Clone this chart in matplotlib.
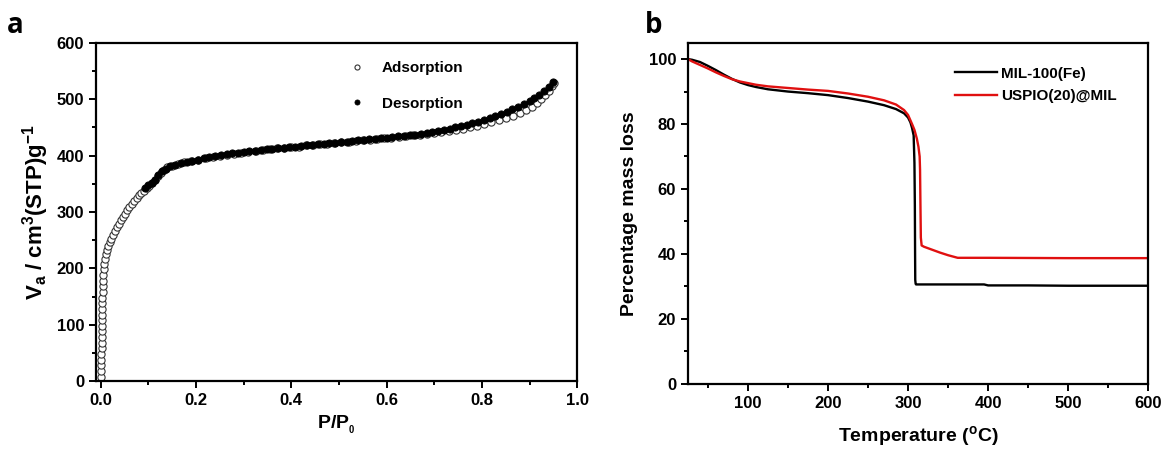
import matplotlib
matplotlib.use("Agg")
import matplotlib.pyplot as plt
from matplotlib.ticker import MultipleLocator

plt.rcParams.update({
    'font.family': 'Liberation Sans',
    'font.weight': 'bold',
    'axes.labelweight': 'bold',
    'mathtext.fontset': 'custom',
    'mathtext.rm': 'Liberation Sans:bold',
    'mathtext.it': 'Liberation Sans:bold',
    'mathtext.bf': 'Liberation Sans:bold',
    'mathtext.default': 'bf',
})

# panel a: N2 isotherm (P/P0, Va)
ads_p = [0.001, 0.001, 0.001, 0.0015, 0.0015, 0.002, 0.002, 0.002, 0.0025, 0.0025,
         0.003, 0.003, 0.003, 0.0035, 0.0035, 0.004, 0.004, 0.0045, 0.005, 0.006,
         0.007, 0.008, 0.010, 0.013, 0.016, 0.019, 0.022, 0.026, 0.030, 0.034,
         0.038, 0.042, 0.046, 0.050, 0.055, 0.060, 0.065, 0.070, 0.075, 0.080,
         0.085, 0.090, 0.096, 0.102, 0.108, 0.114, 0.120, 0.126, 0.132, 0.140,
         0.150, 0.162, 0.175, 0.190, 0.205, 0.220, 0.235, 0.250, 0.265, 0.280,
         0.295, 0.310, 0.325, 0.340, 0.355, 0.370, 0.385, 0.400, 0.415, 0.430,
         0.445, 0.460, 0.475, 0.490, 0.505, 0.520, 0.535, 0.550, 0.565, 0.580,
         0.595, 0.610, 0.625, 0.640, 0.655, 0.670, 0.685, 0.700, 0.715, 0.730,
         0.745, 0.760, 0.775, 0.790, 0.805, 0.820, 0.835, 0.850, 0.865, 0.880,
         0.893, 0.905, 0.915, 0.925, 0.933, 0.941, 0.948, 0.952]
ads_v = [8, 18, 28, 38, 48, 58, 68, 78, 88, 98,
         108, 118, 128, 138, 148, 158, 168, 178, 188, 198,
         208, 217, 226, 233, 240, 246, 252, 259, 266, 273,
         279, 285, 291, 297, 303, 309, 315, 320, 325, 330,
         334, 338, 342, 346, 351, 357, 364, 370, 375, 379,
         382, 385, 388, 391, 393, 395, 397, 399, 401, 403,
         405, 407, 409, 410, 411, 413, 414, 415, 416, 418,
         419, 420, 421, 422, 424, 425, 426, 427, 428, 430,
         431, 432, 433, 435, 436, 437, 439, 440, 442, 444,
         446, 448, 450, 453, 456, 459, 463, 467, 471, 476,
         481, 487, 493, 500, 507, 515, 523, 529]

des_p = [0.950, 0.940, 0.930, 0.920, 0.910, 0.900, 0.888, 0.876, 0.864, 0.852,
         0.840, 0.828, 0.816, 0.804, 0.792, 0.780, 0.768, 0.756, 0.744, 0.732,
         0.720, 0.708, 0.696, 0.684, 0.672, 0.660, 0.648, 0.636, 0.624, 0.612,
         0.600, 0.588, 0.576, 0.564, 0.552, 0.540, 0.528, 0.516, 0.504, 0.492,
         0.480, 0.468, 0.456, 0.444, 0.432, 0.420, 0.408, 0.396, 0.384, 0.372,
         0.360, 0.348, 0.336, 0.324, 0.312, 0.300, 0.288, 0.276, 0.264, 0.252,
         0.240, 0.228, 0.216, 0.204, 0.192, 0.180, 0.168, 0.156, 0.145, 0.136,
         0.128, 0.121, 0.114, 0.107, 0.100, 0.093]
des_v = [531, 522, 514, 508, 502, 497, 492, 487, 482, 478,
         474, 470, 466, 463, 460, 457, 454, 452, 450, 448,
         446, 444, 442, 440, 439, 437, 436, 435, 434, 433,
         432, 431, 430, 429, 428, 427, 426, 425, 424, 423,
         422, 421, 420, 419, 418, 417, 416, 415, 414, 413,
         412, 411, 410, 409, 408, 407, 405, 404, 402, 401,
         399, 397, 395, 393, 391, 389, 387, 384, 381, 377,
         372, 365, 357, 351, 347, 343]

# panel b: TGA (temperature, mass %)
mil_t = [25, 30, 40, 50, 60, 70, 80, 90, 100, 110, 125, 150, 175, 200, 225, 250,
         270, 285, 295, 300, 303, 305, 307, 308, 308.5, 308.8, 309, 309.5, 310,
         350, 395, 400, 450, 500, 550, 600]
mil_m = [100, 99.8, 99.1, 97.9, 96.6, 95.2, 93.9, 92.8, 92.0, 91.4, 90.7, 90.0,
         89.5, 88.9, 88.0, 86.9, 85.8, 84.6, 83.3, 82.0, 80.5, 78.8, 76.5, 68,
         55, 40, 32, 30.8, 30.6, 30.6, 30.6, 30.3, 30.3, 30.2, 30.2, 30.2]

uspio_t = [25, 30, 40, 50, 60, 70, 80, 90, 100, 110, 125, 150, 175, 200, 225, 250,
           270, 285, 295, 300, 305, 308, 311, 313, 314.5, 315, 315.5, 316, 317,
           320, 330, 340, 350, 362, 400, 500, 600]
uspio_m = [100, 99.3, 98.2, 97.1, 95.9, 94.8, 93.8, 93.1, 92.6, 92.1, 91.6, 91.1,
           90.6, 90.2, 89.4, 88.4, 87.3, 86.0, 84.3, 82.8, 80.0, 78.2, 75.5, 73,
           70, 66, 55, 45, 42.6, 42.2, 41.3, 40.4, 39.6, 38.8, 38.8, 38.7, 38.7]

fig = plt.figure(figsize=(11.68, 4.51), dpi=100)
ax1 = fig.add_axes([0.0822, 0.155, 0.412, 0.750])
ax2 = fig.add_axes([0.589, 0.149, 0.394, 0.756])


def style_axes(ax):
    for s in ax.spines.values():
        s.set_linewidth(1.6)
    ax.tick_params(which='both', direction='out', top=False, right=False,
                   width=1.4, labelsize=12)
    ax.tick_params(which='major', length=5)
    ax.tick_params(which='minor', length=3)


# ---- panel a
ax1.plot(ads_p, ads_v, 'o', ms=5.2, mfc='white', mec='#333333', mew=0.8,
         label='Adsorption')
ax1.plot(des_p, des_v, 'o', ms=5.2, mfc='black', mec='black', mew=0.6,
         label='Desorption')
ax1.set_xlim(-0.01, 1.0)
ax1.set_ylim(0, 600)
ax1.xaxis.set_major_locator(MultipleLocator(0.2))
ax1.xaxis.set_minor_locator(MultipleLocator(0.1))
ax1.yaxis.set_major_locator(MultipleLocator(100))
ax1.yaxis.set_minor_locator(MultipleLocator(50))
style_axes(ax1)
ax1.set_xlabel(r'P/P$_{\mathregular{_0}}$', fontsize=14, labelpad=4)
ax1.set_ylabel(r'V$_\mathregular{a}$ / cm$^\mathregular{3}$(STP)g$^\mathregular{-1}$',
               fontsize=16, labelpad=4)
ax1.legend(loc='upper left', bbox_to_anchor=(0.527, 0.945), frameon=False,
           fontsize=11, markerscale=0.7, handlelength=1.0, handletextpad=1.1,
           labelspacing=1.4, borderpad=0, borderaxespad=0)

# ---- panel b
ax2.plot(mil_t, mil_m, color='black', lw=1.7, label='MIL-100(Fe)')
ax2.plot(uspio_t, uspio_m, color='#e01010', lw=1.7, label='USPIO(20)@MIL')
ax2.set_xlim(25, 600)
ax2.set_ylim(0, 105)
ax2.set_xticks([100, 200, 300, 400, 500, 600])
ax2.xaxis.set_minor_locator(MultipleLocator(50))
ax2.yaxis.set_major_locator(MultipleLocator(20))
ax2.yaxis.set_minor_locator(MultipleLocator(10))
style_axes(ax2)
ax2.set_xlabel(r'Temperature ($^\mathregular{o}$C)', fontsize=14, labelpad=10)
ax2.set_ylabel('Percentage mass loss', fontsize=14, labelpad=8)
ax2.legend(loc='upper left', bbox_to_anchor=(0.58, 0.93), frameon=False,
           fontsize=11, handlelength=2.75, handletextpad=0.3,
           labelspacing=0.55, borderpad=0, borderaxespad=0)

fig.text(0.006, 0.975, 'a', fontsize=20, fontweight='bold', family='Open Sans',
         va='top')
fig.text(0.552, 0.975, 'b', fontsize=20, fontweight='bold', family='Open Sans',
         va='top')

fig.savefig('out.png', dpi=100)
